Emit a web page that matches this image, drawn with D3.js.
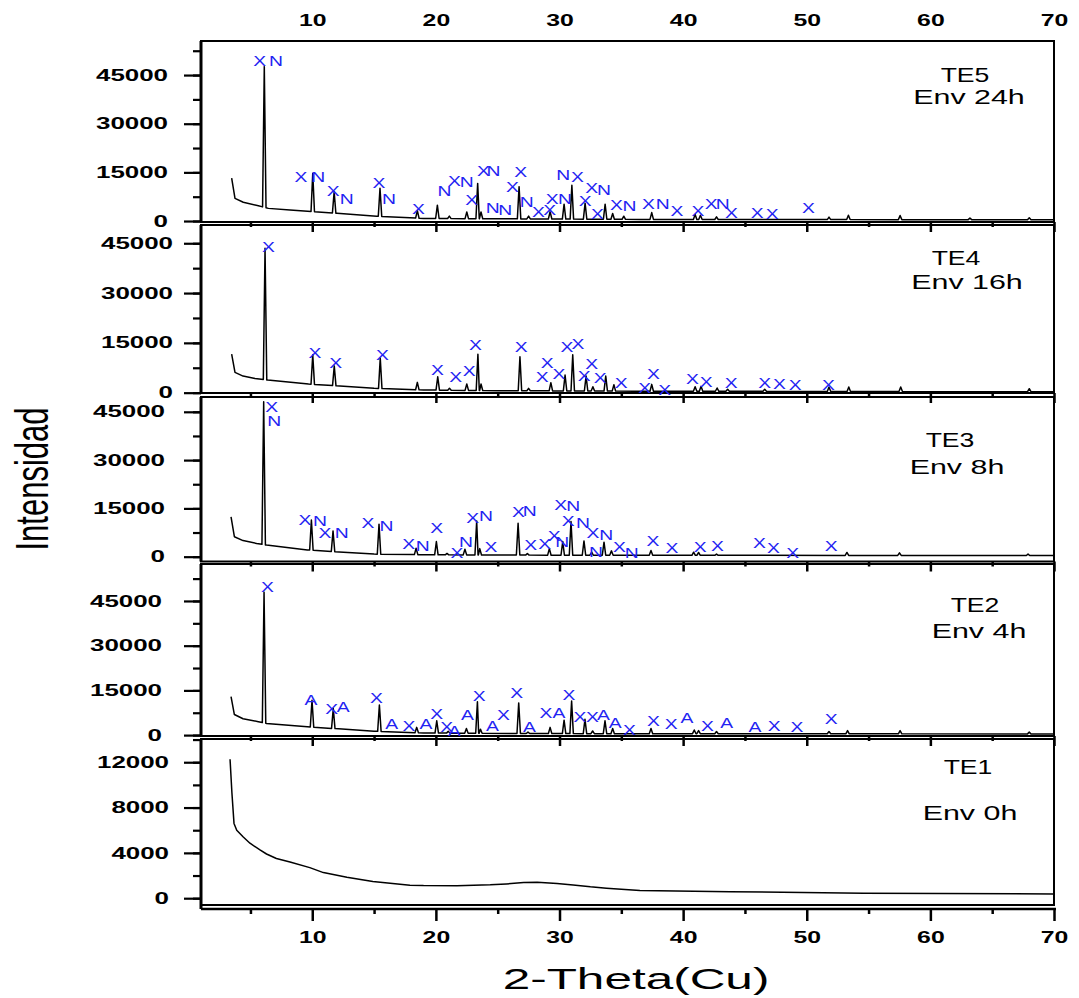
<!DOCTYPE html>
<html>
<head>
<meta charset="utf-8">
<script src="https://d3js.org/d3.v7.min.js"></script>
<style>
  body { margin: 0; background: #fff; }
  svg { display: block; font-family: "Liberation Sans", Arial, sans-serif; }
</style>
</head>
<body>
<svg id="chart" width="1079" height="998"></svg>
<script>
// ---- data (2-theta in degrees, intensity in counts) ----
var xTicks = [10, 20, 30, 40, 50, 60, 70];
var xMinorTicks = [5, 15, 25, 35, 45, 55, 65];
var yTicksHigh = [0, 15000, 30000, 45000];
var yTicksLow = [0, 4000, 8000, 12000];

// background anchors [2theta, counts]
var te5Background = [[3.48,13200],[3.75,7000],[4.42,5800],[5.64,4700],[6.45,3900],[8.2,3400],[9.96,2900],[12,2400],[15.2,1500],[19,800],[24.4,700],[36.5,500],[50,450],[70,400]];
var te4Background = [[3.48,11600],[3.75,6100],[4.4,5000],[5.37,4300],[6.4,3800],[9.7,2600],[15,1300],[19,800],[25,600],[36,450],[70,300]];
var te3Background = [[3.43,12400],[3.7,6200],[4.4,5000],[5.5,4100],[6.3,3600],[9.6,2100],[15,800],[19,600],[30,450],[70,350]];
var te2Background = [[3.43,12900],[3.7,6900],[4.4,5500],[5.64,4500],[6.3,3900],[9.6,2800],[15,1300],[19,700],[30,500],[70,400]];
var te1Background = [[3.35,12270],[3.5,9300],[3.67,6600],[3.89,6000],[4.42,5400],[4.96,4850],[5.77,4260],[6.3,3900],[7.1,3500],[8.2,3200],[9.8,2700],[10.9,2260],[12.8,1850],[14.9,1470],[16.3,1320],[17.9,1150],[19,1110],[21.7,1100],[24.4,1180],[25.7,1260],[27.1,1380],[28.2,1400],[29.8,1300],[31.1,1170],[32.5,1000],[33.8,880],[36.5,670],[43.8,580],[54.6,440],[70,380]];

// peaks [2theta, apex counts]
var te5Peaks = [[6.12,47600],[10.04,14700],[11.77,9000],[15.48,10100],[18.5,3200],[20.12,4900],[21.09,1500],[22.5,2800],[23.38,11600],[23.65,2800],[26.73,10600],[27.5,1500],[29.24,2900],[30.37,5200],[31.0,11000],[32.07,5500],[33.69,5200],[34.3,2300],[35.2,1500],[37.46,2600],[40.97,2000],[41.4,1800],[42.7,1300],[51.8,1200],[53.37,1800],[57.55,1700],[63.2,900],[68.0,1000]];
var te4Peaks = [[6.18,43500],[10.04,11400],[11.78,8000],[15.5,10400],[18.5,3100],[20.15,4800],[21.1,1300],[22.5,2600],[23.4,11600],[23.65,2600],[26.8,10800],[27.5,1300],[29.3,3000],[30.45,5300],[31.07,11400],[32.15,5000],[32.7,1800],[33.74,5000],[34.4,2400],[37.46,2500],[40.97,1800],[41.45,1900],[42.75,1400],[43.6,1000],[46.6,1000],[51.8,1700],[53.4,1700],[57.6,1700],[68.0,1200]];
var te3Peaks = [[6.07,48100],[9.93,11400],[11.68,8000],[15.4,10100],[18.4,2600],[20.04,4700],[20.9,1000],[22.35,2300],[23.3,11100],[23.55,2500],[26.65,10400],[27.4,1000],[29.18,2500],[30.26,4700],[30.93,10900],[31.98,4900],[32.6,1400],[33.6,4500],[34.2,1800],[37.4,1900],[40.85,1400],[41.25,1300],[42.7,800],[53.25,1300],[57.5,1200],[67.9,800]];
var te2Peaks = [[6.1,47900],[9.98,11700],[11.7,8900],[15.43,10100],[18.45,2600],[20.07,4800],[21.0,1300],[22.47,2200],[23.36,11200],[23.6,2000],[26.7,10800],[27.45,1000],[29.24,2600],[30.37,5000],[30.98,11400],[32.06,5300],[32.68,1400],[33.68,4800],[34.3,2200],[37.4,2200],[40.9,1700],[41.25,1500],[42.7,1200],[51.8,1200],[53.3,1500],[57.55,1500],[68.0,1000]];
var te1Peaks = [];

// phase marks [label, 2theta, counts]
var te5Marks = [["X",5.75,49500],["N",7.07,49500],["X",9.09,13600],["N",10.49,13600],["X",11.7,9300],["N",12.79,6700],["X",15.4,11600],["N",16.2,6700],["X",18.58,3700],["N",20.69,9300],["X",21.5,12500],["N",22.5,12000],["X",22.9,6500],["X",23.84,15400],["N",24.65,15400],["N",24.6,3900],["N",25.6,3400],["X",26.2,10600],["X",26.87,15000],["N",27.35,5900],["X",28.3,2900],["X",29.2,3400],["X",29.4,6800],["N",30.45,6800],["N",30.3,14200],["X",31.45,13700],["X",32.07,6200],["X",32.6,10300],["N",33.6,9600],["X",33.07,2200],["X",34.6,4900],["N",35.65,4700],["X",37.2,5200],["N",38.35,5200],["X",39.5,3200],["X",41.2,3200],["X",42.26,5400],["N",43.2,5400],["X",43.9,2400],["X",46.0,2400],["X",47.2,2100],["X",50.13,3900]];
var te4Marks = [["X",6.45,44000],["X",10.22,12000],["X",11.9,8900],["X",15.67,11400],["X",20.12,6800],["X",21.6,4800],["X",22.7,6600],["X",23.2,14400],["X",26.9,13900],["X",28.6,4800],["X",29.0,9000],["X",29.96,5600],["X",30.6,13900],["X",31.5,14700],["X",32.0,5000],["X",32.6,8600],["X",33.3,4300],["X",34.98,3000],["X",36.9,1300],["X",37.6,5600],["X",38.5,800],["X",40.75,4100],["X",41.86,3100],["X",43.88,2800],["X",46.6,2800],["X",47.8,2600],["X",49.06,2300],["X",51.75,2300]];
var te3Marks = [["X",6.72,46400],["N",6.93,42100],["X",9.41,11400],["N",10.63,11100],["X",11.03,7500],["N",12.38,7500],["X",14.5,10400],["N",16.0,9500],["X",17.8,3900],["N",18.94,3400],["X",20.07,8800],["X",21.7,1200],["N",22.44,4700],["X",22.98,11900],["N",24.06,12600],["X",24.46,3100],["X",26.67,14000],["N",27.6,14300],["X",27.67,3600],["X",28.8,3900],["X",29.56,6500],["N",30.23,4700],["X",30.1,16100],["N",31.1,15700],["X",30.7,11100],["N",31.9,10400],["X",32.7,7500],["N",33.77,6700],["N",32.96,1400],["X",34.85,2900],["N",35.85,1100],["X",37.55,5000],["X",39.1,2600],["X",41.37,3100],["X",42.77,3400],["X",46.17,4200],["X",47.3,2600],["X",48.87,1100],["X",51.97,3400]];
var te2Marks = [["X",6.37,49600],["A",9.9,11700],["X",11.57,8700],["A",12.5,9500],["X",15.2,12300],["A",16.43,3700],["X",17.83,3100],["A",19.2,3900],["X",20.07,7000],["X",20.88,2800],["A",21.5,1400],["A",22.55,6900],["X",23.5,13200],["A",24.57,3100],["X",25.46,6700],["X",26.54,14000],["A",27.56,2800],["X",28.9,7500],["A",29.96,7500],["X",30.77,13600],["X",31.66,6100],["X",32.66,6100],["A",33.55,6700],["A",34.5,4100],["X",35.65,1700],["X",37.6,4700],["X",39.03,3900],["A",40.3,5900],["X",41.96,3100],["A",43.53,4100],["A",45.8,2600],["X",47.36,3100],["X",49.2,2800],["X",51.97,5400]];
var te1Marks = [];

// ---- layout ----
var panels = [
  { name: "TE5", env: "Env 24h", top: 41,  bottom: 222,   axisY: 222,   yDomain: [-300, 55500],  ticks: yTicksHigh, minorStep: 7500, labelGap: 33, bg: te5Background, peaks: te5Peaks, marks: te5Marks, nameAt: [965, 82],  envAt: [969, 104] },
  { name: "TE4", env: "Env 16h", top: 225, bottom: 393,   axisY: 393,   yDomain: [-100, 50500],  ticks: yTicksHigh, minorStep: 7500, labelGap: 28, bg: te4Background, peaks: te4Peaks, marks: te4Marks, nameAt: [956, 265], envAt: [967, 289] },
  { name: "TE3", env: "Env 8h",  top: 397, bottom: 561.5, axisY: 561.5, yDomain: [-1500, 49600], ticks: yTicksHigh, minorStep: 7500, labelGap: 36, bg: te3Background, peaks: te3Peaks, marks: te3Marks, nameAt: [950, 447], envAt: [957, 474] },
  { name: "TE2", env: "Env 4h",  top: 564, bottom: 736,   axisY: 736,   yDomain: [-300, 57400],  ticks: yTicksHigh, minorStep: 7500, labelGap: 39, bg: te2Background, peaks: te2Peaks, marks: te2Marks, nameAt: [975, 612], envAt: [979, 638] },
  { name: "TE1", env: "Env 0h",  top: 739, bottom: 905,   axisY: 909,   yDomain: [-600, 14050],  ticks: yTicksLow,  minorStep: 2000, labelGap: 32, bg: te1Background, peaks: te1Peaks, marks: te1Marks, nameAt: [968, 774], envAt: [970, 820] }
];

var left = 201, right = 1054;
var peakHalfWidth = 0.14;
var markColor = "#2323f2";

var svg = d3.select("#chart");
var x = d3.scaleLinear().domain([1, 70]).range([left, right]);

// background + triangular spikes for each peak
function buildTrace(bg, peaks) {
  var base = d3.scaleLinear().domain(bg.map(function (d) { return d[0]; })).range(bg.map(function (d) { return d[1]; }));
  var pts = bg.filter(function (d) {
    return !peaks.some(function (p) { return Math.abs(d[0] - p[0]) < peakHalfWidth; });
  });
  peaks.forEach(function (p) {
    pts.push([p[0] - peakHalfWidth, base(p[0] - peakHalfWidth)]);
    pts.push([p[0], p[1]]);
    pts.push([p[0] + peakHalfWidth, base(p[0] + peakHalfWidth)]);
  });
  pts.sort(function (a, b) { return a[0] - b[0]; });
  return pts;
}

function scaledText(sel, sx) {
  return sel.attr("transform", function () {
    var t = d3.select(this).attr("transform") || "";
    return t + " scale(" + sx + ",1)";
  });
}

panels.forEach(function (p, i) {
  var y = d3.scaleLinear().domain(p.yDomain).range([p.bottom, p.top]);
  var g = svg.append("g").attr("class", "panel");

  g.append("clipPath").attr("id", "clip" + i)
    .append("rect").attr("x", left).attr("y", p.top).attr("width", right - left).attr("height", p.bottom - p.top);

  // x axis ticks below each panel
  var xg = g.append("g").attr("transform", "translate(0," + p.axisY + ")");
  xg.append("g").call(d3.axisBottom(x).tickValues(xMinorTicks).tickSize(5).tickFormat("").tickSizeOuter(0));
  var xMajor = xg.append("g").call(d3.axisBottom(x).tickValues(xTicks).tickSize(i === panels.length - 1 ? 12 : 10).tickSizeOuter(0));
  xg.selectAll(".domain").remove();
  xg.selectAll("line").attr("stroke", "#000").attr("stroke-width", 2.5);
  if (i === panels.length - 1) {
    xg.append("line").attr("x1", left).attr("x2", right + 2).attr("stroke", "#000").attr("stroke-width", 2.5);
    xMajor.selectAll("text")
      .attr("y", 0).attr("dy", 0)
      .attr("transform", "translate(0,34)")
      .attr("font-size", 16).attr("font-weight", "bold").attr("fill", "#000");
    scaledText(xMajor.selectAll("text"), 1.55);
  } else {
    xMajor.selectAll("text").remove();
  }

  if (i === 0) {
    var top = g.append("g").attr("transform", "translate(0," + p.top + ")")
      .call(d3.axisTop(x).tickValues(xTicks).tickSize(0));
    top.select(".domain").remove();
    top.selectAll("text")
      .attr("y", 0).attr("dy", 0)
      .attr("transform", "translate(0,-15)")
      .attr("font-size", 16).attr("font-weight", "bold").attr("fill", "#000");
    scaledText(top.selectAll("text"), 1.55);
  }

  // y axis
  var yg = g.append("g").attr("transform", "translate(" + left + ",0)");
  yg.append("g").call(d3.axisLeft(y).tickValues(d3.range(0, p.yDomain[1], p.minorStep)).tickSize(8).tickFormat(""));
  var yMajor = yg.append("g").call(d3.axisLeft(y).tickValues(p.ticks).tickSize(17).tickFormat(d3.format("d")));
  yg.selectAll(".domain").remove();
  yg.selectAll("line").attr("stroke", "#000").attr("stroke-width", 2.2);
  yMajor.selectAll("text")
    .attr("x", 0)
    .attr("transform", "translate(" + (-p.labelGap) + ",0)")
    .attr("font-size", 16).attr("font-weight", "bold").attr("fill", "#000");
  scaledText(yMajor.selectAll("text"), 1.62);

  // frame
  g.append("rect").attr("x", left).attr("y", p.top).attr("width", right - left).attr("height", p.bottom - p.top)
    .attr("fill", "none").attr("stroke", "#000").attr("stroke-width", 2);
  g.append("line").attr("x1", left).attr("x2", left).attr("y1", p.top).attr("y2", p.axisY)
    .attr("stroke", "#000").attr("stroke-width", 3);

  // pattern
  var line = d3.line().x(function (d) { return x(d[0]); }).y(function (d) { return y(d[1]); });
  g.append("path")
    .datum(buildTrace(p.bg, p.peaks))
    .attr("clip-path", "url(#clip" + i + ")")
    .attr("fill", "none").attr("stroke", "#000").attr("stroke-width", 1.5).attr("stroke-linejoin", "round")
    .attr("d", line);

  // phase marks
  g.append("g").selectAll("g.mark").data(p.marks).enter()
    .append("g").attr("class", "mark")
    .attr("transform", function (d) { return "translate(" + x(d[1]) + "," + y(d[2]) + ") scale(1.38,1)"; })
    .append("text")
    .attr("text-anchor", "middle").attr("dy", "0.36em")
    .attr("font-size", 14).attr("fill", markColor)
    .text(function (d) { return d[0]; });

  // sample name
  g.append("text").attr("text-anchor", "middle").attr("font-size", 20).attr("fill", "#000")
    .attr("transform", "translate(" + p.nameAt[0] + "," + p.nameAt[1] + ") scale(1.33,1)")
    .text(p.name);
  g.append("text").attr("text-anchor", "middle").attr("font-size", 20).attr("fill", "#000")
    .attr("transform", "translate(" + p.envAt[0] + "," + p.envAt[1] + ") scale(1.52,1)")
    .text(p.env);
});

// axis titles
svg.append("text").attr("text-anchor", "middle").attr("font-size", 30).attr("fill", "#000")
  .attr("transform", "translate(636,989) scale(1.65,1)")
  .text("2-Theta(Cu)");
svg.append("text").attr("text-anchor", "middle").attr("font-size", 47).attr("fill", "#000")
  .attr("transform", "translate(48,479) rotate(-90) scale(0.66,1)")
  .text("Intensidad");
</script>
</body>
</html>
